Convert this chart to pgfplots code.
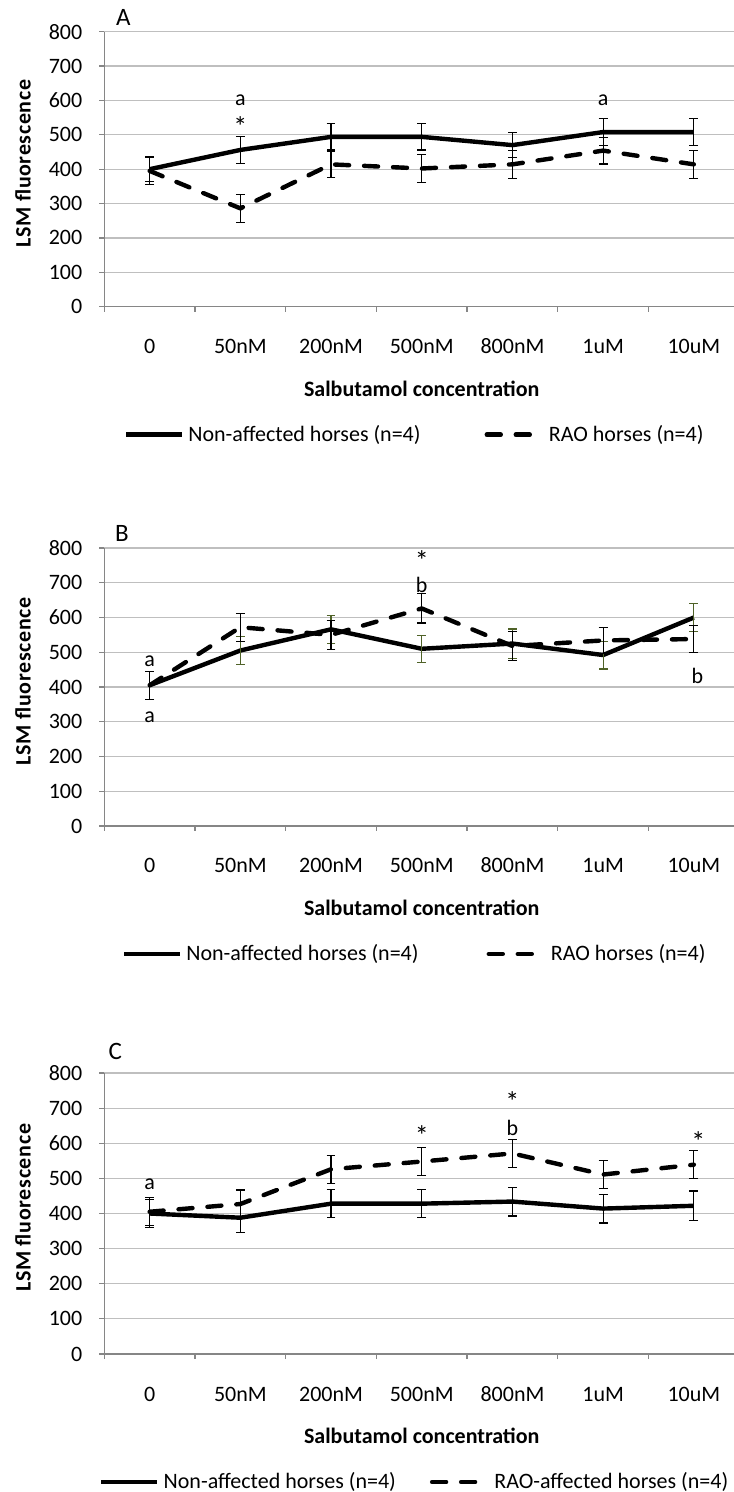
\documentclass[border=0pt]{standalone}
\usepackage{fontspec}
\setmainfont{Carlito}
\usepackage{pgfplots}
\pgfplotsset{compat=1.18}
\usepackage{pgfplotstable}

\definecolor{gridgray}{RGB}{191,191,191}
\definecolor{axisgray}{RGB}{134,134,134}
\definecolor{errgreen}{RGB}{79,98,40}

% panel A
\pgfplotstableread{
x y e
0 400 37
1 456 40
2 494 38
3 494 38
4 470 37
5 508 39
6 508 40
}\Asolid
\pgfplotstableread{
x y e
0 395 40
1 286 40
2 414 39
3 402 41
4 414 41
5 454 39
6 414 41
}\Adash
% panel B
\pgfplotstableread{
x y e
0 405 40
1 505 40
2 566 40
3 510 39
4 525 42
5 492 40
6 600 40
}\Bsolid
\pgfplotstableread{
x y e
0 405 40
1 572 40
2 550 42
3 626 42
4 518 42
5 534 38
6 538 39
}\Bdash
% panel C
\pgfplotstableread{
x y e
0 400 40
1 388 42
2 428 40
3 428 40
4 434 41
5 414 41
6 422 42
}\Csolid
\pgfplotstableread{
x y e
0 405 40
1 427 40
2 526 40
3 548 39
4 571 40
5 511 39
6 539 40
}\Cdash

\newcommand{\fs}{\fontsize{11}{13}\selectfont}
\newcommand{\fstar}{\fontsize{14}{16}\selectfont}

\pgfplotsset{
  panel/.style={
    scale only axis, width=317.45pt, anchor=south west,
    xmin=-0.5, xmax=6.5, ymin=0, ymax=800,
    axis x line*=bottom, axis y line*=left,
    axis line style={draw=axisgray, line width=0.6pt},
    ytick={0,100,...,800},
    ymajorgrids, grid style={draw=gridgray, line width=0.6pt},
    xtick={-0.5,0.5,1.5,2.5,3.5,4.5,5.5,6.5}, xticklabels={},
    extra x ticks={0,1,2,3,4,5,6},
    extra x tick labels={0,50nM,200nM,500nM,800nM,1uM,10uM},
    extra x tick style={major tick length=0pt,
      tick label style={anchor=base, yshift=-23.5pt}},
    tick align=outside, major tick length=2.5pt,
    tick style={draw=axisgray, line width=0.6pt},
    tick label style={font=\fs, text=black},
    yticklabel style={xshift=-5pt},
    /pgf/number format/assume math mode=true,
    xlabel={Salbutamol concentration},
    xlabel style={font=\fs\bfseries, at={(rel axis cs:0.5,0)}, anchor=center, yshift=-41pt},
    ylabel={LSM fluorescence},
    ylabel style={font=\fontsize{11}{13}\selectfont\bfseries\addfontfeature{LetterSpace=3},
      at={(rel axis cs:-0.128,0.52)}, anchor=center},
    legend columns=2,
    legend style={draw=none, fill=none, font=\fs, at={(rel axis cs:0.5,0)}, anchor=center,
      yshift=-64pt, xshift=-3pt,
      /tikz/every even column/.append style={column sep=30pt}},
    legend image code/.code={\draw[##1] (0pt,0pt) -- (28pt,0pt);},
    clip=false,
  },
  solidser/.style={black, line width=2.2pt, line join=round, mark=none},
  dashser/.style={black, line width=2.2pt, dash pattern=on 7pt off 7.5pt, line cap=round, line join=round, mark=none},
  errs/.style={error bars/.cd, y dir=both, y explicit,
    error bar style={solid, line width=0.6pt, line cap=butt, #1},
    error mark options={solid, rotate=90, mark size=2.2pt, line width=0.6pt, line cap=butt, #1}},
  errs/.default=black,
}

\begin{document}
\begin{tikzpicture}
\useasboundingbox (0,0) rectangle (366.5pt,746pt);

% ---- A
\begin{axis}[panel, at={(52.15pt,592.65pt)}, height=137.5pt]
  \addplot[solidser, errs] table[x=x, y=y, y error=e] {\Asolid};
  \addplot[dashser, errs] table[x=x, y=y, y error=e] {\Adash};
  \legend{{Non-affected horses (n=4)},{RAO horses (n=4)}}
  \node[font=\fontsize{12.5}{14}\selectfont] at (rel axis cs:0,1) [xshift=9.5pt, yshift=7pt] {A};
  \node[font=\fs] at (axis cs:1,602) {a};
  \node[font=\fstar] at (axis cs:1,524) {*};
  \node[font=\fs] at (axis cs:5,600) {a};
\end{axis}

% ---- B
\begin{axis}[panel, at={(52.15pt,333pt)}, height=139pt,
  legend style={/tikz/every even column/.append style={column sep=32pt}}]
  \addplot[solidser, errs=errgreen] table[x=x, y=y, y error=e] {\Bsolid};
  \addplot[dashser, errs] table[x=x, y=y, y error=e] {\Bdash};
  \legend{{Non-affected horses (n=4)},{RAO horses (n=4)}}
  \node[font=\fontsize{12.5}{14}\selectfont] at (rel axis cs:0,1) [xshift=8.8pt, yshift=7.5pt] {B};
  \node[font=\fs] at (axis cs:0,473) {a};
  \node[font=\fs] at (axis cs:0,313) {a};
  \node[font=\fs] at (axis cs:3,695) {b};
  \node[font=\fstar] at (axis cs:3,764) {*};
  \node[font=\fs] at (axis cs:6.04,432) {b};
\end{axis}

% ---- C
\begin{axis}[panel, at={(52.15pt,69pt)}, height=140.5pt,
  legend style={xshift=0pt, /tikz/every even column/.append style={column sep=15pt}}]
  \addplot[solidser, errs] table[x=x, y=y, y error=e] {\Csolid};
  \addplot[dashser, errs] table[x=x, y=y, y error=e] {\Cdash};
  \legend{{Non-affected horses (n=4)},{RAO-affected horses (n=4)}}
  \node[font=\fontsize{12.5}{14}\selectfont] at (rel axis cs:0,1) [xshift=5.5pt, yshift=11pt] {C};
  \node[font=\fs] at (axis cs:0,482) {a};
  \node[font=\fstar] at (axis cs:3,621) {*};
  \node[font=\fs] at (axis cs:4,645) {b};
  \node[font=\fstar] at (axis cs:4,720) {*};
  \node[font=\fstar] at (axis cs:6.05,606) {*};
\end{axis}
\end{tikzpicture}
\end{document}
